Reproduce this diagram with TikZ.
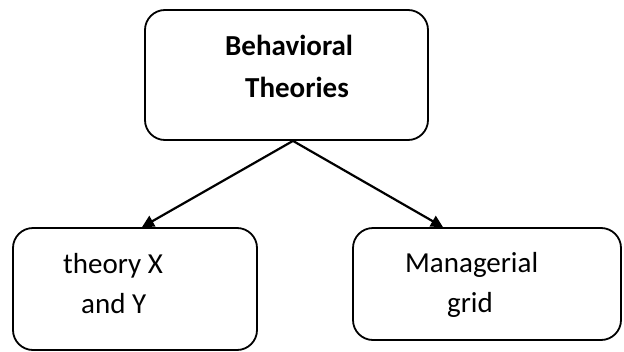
\documentclass[tikz,border=0pt]{standalone}
\usepackage{fontspec}
\setmainfont{Carlito}
\usetikzlibrary{arrows.meta}
\begin{document}
\begin{tikzpicture}[x=1pt,y=-1pt,
  box/.style={draw, line width=1.8pt, rounded corners=20pt, inner sep=0pt},
  lbl/.style={anchor=base west, inner sep=0pt, font=\fontsize{29}{34}\selectfont},
  link/.style={line width=2.2pt, -{Triangle[length=12pt,width=12pt]}}]
\useasboundingbox (0,0) rectangle (624,351);

% boxes
\node[box, minimum width=283pt, minimum height=130pt] (top) at (286.5,75) {};
\node[box, minimum width=244pt, minimum height=122pt] (left) at (135,289) {};
\node[box, minimum width=268pt, minimum height=112pt] (right) at (487,284) {};

% labels
\node[lbl, font=\fontsize{29}{34}\selectfont\bfseries] (t1) at (225,55) {Behavioral};
\node[lbl, font=\fontsize{29}{34}\selectfont\bfseries] (t2) at (245,97) {Theories};
\node[lbl] (l1) at (63,273) {theory X};
\node[lbl] (l2) at (81,313) {and Y};
\node[lbl] (r1) at (405,272) {Managerial};
\node[lbl] (r2) at (447,312) {grid};

% connectors
\coordinate (apex) at ([xshift=6.5pt]top.south);
\draw[link] (apex) -- ([xshift=7pt]left.north);
\draw[link] (apex) -- ([xshift=-44pt]right.north);
\end{tikzpicture}
\end{document}
